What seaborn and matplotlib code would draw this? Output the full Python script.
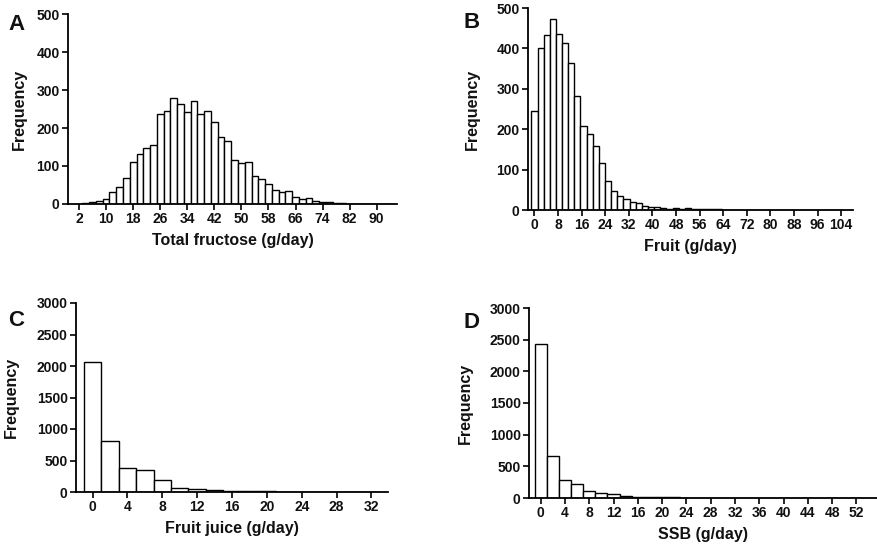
import numpy as np
import pandas as pd
import matplotlib
matplotlib.use("Agg")
import matplotlib.pyplot as plt
import seaborn as sns

# ---------------- data ----------------
# Panel A: Total fructose (g/day), bins of 2 g/day
A_centers = [2, 4, 6, 8, 10, 12, 14, 16, 18, 20, 22, 24, 26, 28, 30, 32, 34, 36, 38, 40,
             42, 44, 46, 48, 50, 52, 54, 56, 58, 60, 62, 64, 66, 68, 70, 72, 74, 76, 78, 80,
             82, 84, 86, 88, 90, 92, 94]
A_counts = [1, 3, 5, 9, 14, 31, 45, 69, 110, 132, 147, 156, 236, 244, 280, 264, 241, 272, 236, 244,
            215, 175, 167, 116, 109, 111, 73, 65, 53, 37, 32, 33, 18, 13, 17, 8, 4, 5, 3, 2,
            1, 1, 1, 1, 0, 1, 1]
A_ticks = [2, 10, 18, 26, 34, 42, 50, 58, 66, 74, 82, 90]

# Panel B: Fruit (g/day), bins of 2.08 g/day
B_centers = [0.0, 2.08, 4.16, 6.24, 8.32, 10.4, 12.48, 14.56, 16.64, 18.72, 20.8, 22.88, 24.96,
             27.04, 29.12, 31.2, 33.28, 35.36, 37.44, 39.52, 41.6, 43.68, 45.76, 47.84, 49.92,
             52.0, 54.08, 56.16, 58.24, 60.32, 62.4, 64.48, 66.56, 68.64, 70.72, 72.8, 74.88,
             76.96, 79.04, 81.12, 83.2, 85.28, 87.36, 89.44, 91.52, 93.6, 95.68, 97.76, 99.84,
             101.92, 104.0]
B_counts = [244, 401, 432, 474, 435, 413, 363, 283, 209, 189, 158, 116, 73,
            46, 34, 26, 21, 18, 11, 7, 7, 6, 3, 4, 3,
            6, 2, 2, 2, 3, 2, 1, 1, 0, 0, 0, 0,
            0, 0, 0, 0, 0, 0, 0, 0, 1, 0, 0, 0,
            0, 1]
B_ticks = [0, 8, 16, 24, 32, 40, 48, 56, 64, 72, 80, 88, 96, 104]

# Panel C: Fruit juice (g/day), bins of 2 g/day
C_centers = [0, 2, 4, 6, 8, 10, 12, 14, 16, 18, 20, 22, 24, 26, 28, 30, 32]
C_counts = [2070, 802, 388, 345, 186, 58, 42, 32, 21, 10, 8, 5, 4, 2, 1, 1, 1]
C_ticks = [0, 4, 8, 12, 16, 20, 24, 28, 32]

# Panel D: SSB (g/day), bins of 2 g/day
D_centers = [0, 2, 4, 6, 8, 10, 12, 14, 16, 18, 20, 22, 24, 26, 28, 30, 32, 34, 36, 38,
             40, 42, 44, 46, 48, 50, 52]
D_counts = [2438, 671, 278, 215, 115, 73, 58, 37, 21, 16, 10, 8, 6, 4, 3, 3, 2, 1, 1, 3,
            1, 0, 0, 0, 0, 0, 0]
D_ticks = [0, 4, 8, 12, 16, 20, 24, 28, 32, 36, 40, 44, 48, 52]

# ---------------- style ----------------
sns.set_theme(style="ticks")
plt.rcParams["font.family"] = ["Liberation Sans", "DejaVu Sans"]
plt.rcParams["font.weight"] = "bold"
plt.rcParams["axes.labelweight"] = "bold"

fig = plt.figure(figsize=(8.77, 5.5), dpi=100)
W, H = 877, 550


def axes_px(left, right, top, bottom):
    return fig.add_axes([left / W, 1 - bottom / H, (right - left) / W, (bottom - top) / H])


panels = [
    dict(centers=A_centers, counts=A_counts, width=2.0, ticks=A_ticks, xlim=(-1.25, 96.0),
         ylim=(0, 500), yticks=[0, 100, 200, 300, 400, 500], xlabel="Total fructose (g/day)",
         box=(68, 397, 14, 204), letter="A", lpos=(8, 30), ylab_x=-0.125),
    dict(centers=B_centers, counts=B_counts, width=2.08, ticks=B_ticks, xlim=(-2.2, 108.0),
         ylim=(0, 500), yticks=[0, 100, 200, 300, 400, 500], xlabel="Fruit (g/day)",
         box=(528, 853, 8, 210), letter="B", lpos=(464, 28), ylab_x=-0.148),
    dict(centers=C_centers, counts=C_counts, width=2.0, ticks=C_ticks, xlim=(-1.9, 33.9),
         ylim=(0, 3000), yticks=[0, 500, 1000, 1500, 2000, 2500, 3000], xlabel="Fruit juice (g/day)",
         box=(76, 388, 303, 492), letter="C", lpos=(8, 326), ylab_x=-0.183),
    dict(centers=D_centers, counts=D_counts, width=2.0, ticks=D_ticks, xlim=(-1.93, 55.4),
         ylim=(0, 3000), yticks=[0, 500, 1000, 1500, 2000, 2500, 3000], xlabel="SSB (g/day)",
         box=(529, 877, 308, 498), letter="D", lpos=(464, 328), ylab_x=-0.161),
]

for p in panels:
    ax = axes_px(*p["box"])
    c = np.asarray(p["centers"], dtype=float)
    w = p["width"]
    n = len(c)
    lo = float(c[0] - w / 2)
    edges = [lo + i * w for i in range(n + 1)]
    df = pd.DataFrame({"value": c, "count": np.asarray(p["counts"], dtype=float)})
    sns.histplot(data=df, x="value", weights="count", bins=edges, ax=ax, color="white",
                 edgecolor="black", linewidth=1.0, alpha=1.0)
    ax.set_xlim(*p["xlim"])
    ax.set_ylim(*p["ylim"])
    ax.set_xticks(p["ticks"])
    ax.set_yticks(p["yticks"])
    ax.set_xticklabels([str(t) for t in p["ticks"]], fontweight="bold")
    ax.set_yticklabels([str(t) for t in p["yticks"]], fontweight="bold")
    ax.tick_params(direction="out", length=4, width=1.2, labelsize=10, pad=2, color="black",
                   labelcolor="#111111")
    for s in ["top", "right"]:
        ax.spines[s].set_visible(False)
    for s in ["left", "bottom"]:
        ax.spines[s].set_linewidth(1.3)
        ax.spines[s].set_color("black")
    ax.set_xlabel(p["xlabel"], fontsize=11.5, fontweight="bold", labelpad=5, color="#111111")
    ax.set_ylabel("Frequency", fontsize=11.5, fontweight="bold", color="#111111")
    ax.yaxis.set_label_coords(p["ylab_x"], 0.5)
    ax.set_facecolor("white")
    fig.text(p["lpos"][0] / W, 1 - p["lpos"][1] / H, p["letter"], fontsize=16,
             fontweight="bold", ha="left", va="baseline", color="#111111")

fig.savefig("out.png", dpi=100, facecolor="white")
